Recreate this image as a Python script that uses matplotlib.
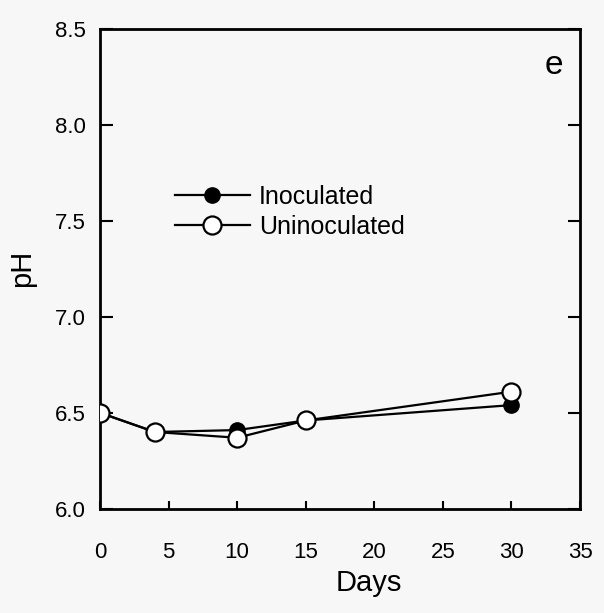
import matplotlib.pyplot as plt

# data
days = [0, 4, 10, 15, 30]
ph_inoc = [6.50, 6.40, 6.41, 6.46, 6.54]
ph_uninoc = [6.50, 6.40, 6.37, 6.46, 6.61]
xticks = [0, 5, 10, 15, 20, 25, 30, 35]
yticks = [6.0, 6.5, 7.0, 7.5, 8.0, 8.5]

plt.rcParams['font.family'] = ['Liberation Sans', 'DejaVu Sans']

fig = plt.figure(figsize=(6.04, 6.13), dpi=100, facecolor='#f7f7f7')
ax = fig.add_axes([0.1656, 0.170, 0.7947, 0.783])
ax.set_facecolor('#f7f7f7')

ax.plot(days, ph_inoc, '-o', color='black', lw=1.6, ms=11,
        mfc='black', mec='black', label='Inoculated', zorder=3)
ax.plot(days, ph_uninoc, '-o', color='black', lw=1.6, ms=13,
        mfc='white', mec='black', mew=1.6, label='Uninoculated', zorder=4)

ax.set_xlim(0, 35)
ax.set_ylim(6.0, 8.5)
ax.set_xticks(xticks)
ax.set_xticklabels([str(t) for t in xticks])
ax.set_yticks(yticks)
ax.set_yticklabels(['%.1f' % t for t in yticks])

ax.tick_params(axis='x', direction='in', length=6, width=1.5, pad=24,
               labelsize=16)
ax.tick_params(axis='y', direction='in', length=9, width=1.5, pad=10,
               labelsize=16, right=True)

for s in ax.spines.values():
    s.set_linewidth(2)

ax.set_xlabel('Days', fontsize=21, labelpad=8)
ax.xaxis.set_label_coords(0.56, -0.125)
ax.set_ylabel('pH', fontsize=21, labelpad=14)

ax.text(0.965, 0.955, 'e', transform=ax.transAxes, fontsize=24,
        ha='right', va='top')

ax.legend(loc='upper left', bbox_to_anchor=(0.156, 0.675), frameon=False,
          fontsize=18, handlelength=3.0, handletextpad=0.35,
          labelspacing=0.25, borderaxespad=0, borderpad=0)

plt.savefig('out.png', dpi=100, facecolor=fig.get_facecolor())
